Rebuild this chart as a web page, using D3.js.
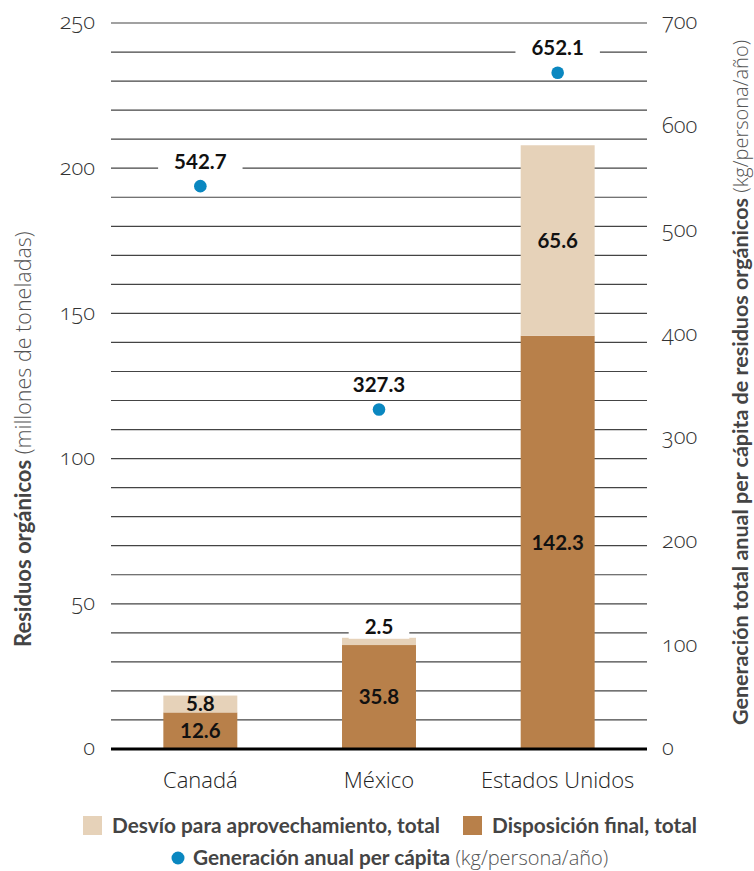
<!DOCTYPE html>
<html>
<head>
<meta charset="utf-8">
<script src="https://cdn.jsdelivr.net/npm/d3@7"></script>
<style>
  body { margin: 0; background: #fff; }
  svg text { font-family: Lato, "Open Sans", sans-serif; }
  .light { font-family: "Open Sans", Lato, sans-serif; font-weight: 300; }
  .tick text { font-variant-numeric: oldstyle-nums; }
</style>
</head>
<body>
<svg id="chart"></svg>
<script>
// datos
var countries = ["Canadá", "México", "Estados Unidos"]
var desvio = [5.8, 2.5, 65.6]          // desvío para aprovechamiento
var disposicion = [12.6, 35.8, 142.3]  // disposición final
var perCapita = [542.7, 327.3, 652.1]  // kg/persona/año
var leftTicks = [0, 50, 100, 150, 200, 250]
var rightTicks = [0, 100, 200, 300, 400, 500, 600, 700]

var colDesvio = "#e6d2b9"
var colDisp = "#b8804a"
var colDot = "#0a87c0"

var screen = {width: 754, height: 871}
var plot = {left: 111, right: 647, top: 23, bottom: 749}

var svg = d3.select("#chart")
  .attr("width", screen.width)
  .attr("height", screen.height)

var x = d3.scaleBand()
  .domain(countries)
  .range([plot.left, plot.right])
  .paddingInner(0.586)
  .paddingOuter(0.293)

var y = d3.scaleLinear().domain([0, 250]).range([plot.bottom, plot.top])
var y2 = d3.scaleLinear().domain([0, 700]).range([plot.bottom, plot.top])

// lineas de cuadricula cada 10
svg.append("g")
  .selectAll("line")
  .data(y.ticks(25))
  .enter()
  .append("line")
  .attr("x1", plot.left)
  .attr("x2", plot.right)
  .attr("y1", function(d){ return y(d) })
  .attr("y2", function(d){ return y(d) })
  .attr("stroke", "#444")
  .attr("stroke-width", 1.2)

// barras apiladas
var rows = countries.map(function(c, i){
  return {pais: c, disposicion: disposicion[i], desvio: desvio[i]}
})
var stack = d3.stack().keys(["disposicion", "desvio"])(rows)
var colors = {disposicion: colDisp, desvio: colDesvio}

svg.append("g")
  .selectAll("g")
  .data(stack)
  .enter()
  .append("g")
  .attr("fill", function(s){ return colors[s.key] })
  .selectAll("rect")
  .data(function(s){ return s })
  .enter()
  .append("rect")
  .attr("x", function(d){ return x(d.data.pais) })
  .attr("width", x.bandwidth())
  .attr("y", function(d){ return y(d[1]) })
  .attr("height", function(d){ return y(d[0]) - y(d[1]) })

// linea base
svg.append("line")
  .attr("x1", plot.left).attr("x2", plot.right)
  .attr("y1", y(0)).attr("y2", y(0))
  .attr("stroke", "#000")
  .attr("stroke-width", 3)

// ejes
var axL = svg.append("g")
  .attr("transform", "translate(" + (plot.left - 16) + ",0)")
  .call(d3.axisLeft(y).tickValues(leftTicks).tickSize(0).tickPadding(0))
var axR = svg.append("g")
  .attr("transform", "translate(" + (plot.right + 15) + ",0)")
  .call(d3.axisRight(y2).tickValues(rightTicks).tickSize(0).tickPadding(0))
;[axL, axR].forEach(function(a){
  a.select(".domain").remove()
  a.selectAll("text")
    .attr("class", "light")
    .attr("font-size", 22)
    .attr("fill", "#333")
    .attr("dy", "0.27em")
})

var axX = svg.append("g")
  .attr("transform", "translate(0," + plot.bottom + ")")
  .call(d3.axisBottom(x).tickSize(0).tickPadding(0))
axX.select(".domain").remove()
axX.selectAll("text")
  .attr("class", "light")
  .attr("font-size", 22)
  .attr("fill", "#222")
  .attr("dy", 39)

// etiquetas de valores en barras
var segLabels = svg.append("g")
stack.forEach(function(s){
  s.forEach(function(d, i){
    if (s.key == "desvio" && i == 1) return
    segLabels.append("text")
      .attr("x", x(d.data.pais) + x.bandwidth() / 2)
      .attr("y", (y(d[0]) + y(d[1])) / 2)
      .attr("dy", "0.36em")
      .attr("text-anchor", "middle")
      .attr("font-size", 20.5)
      .attr("font-weight", 700)
      .attr("fill", "#111")
      .text(d.data[s.key].toFixed(1))
  })
})

// etiqueta con fondo blanco
function boxedLabel(cx, cy, txt){
  var g = svg.append("g")
  var bg = g.append("rect").attr("fill", "#fff")
  var t = g.append("text")
    .attr("x", cx)
    .attr("y", cy)
    .attr("dy", "0.36em")
    .attr("text-anchor", "middle")
    .attr("font-size", 20.5)
    .attr("font-weight", 700)
    .attr("fill", "#111")
    .text(txt)
  var w = t.node().getComputedTextLength() + 32
  bg.attr("x", cx - w / 2).attr("y", cy - 12).attr("width", w).attr("height", 24)
}

// desvío de México, arriba de la barra
boxedLabel(x(countries[1]) + x.bandwidth() / 2,
  y(disposicion[1] + desvio[1]) - 11, desvio[1].toFixed(1))

// puntos per cápita
perCapita.forEach(function(v, i){
  boxedLabel(x(countries[i]) + x.bandwidth() / 2, y2(v) - 25, v.toFixed(1))
})
svg.append("g")
  .selectAll("circle")
  .data(perCapita)
  .enter()
  .append("circle")
  .attr("cx", function(d, i){ return x(countries[i]) + x.bandwidth() / 2 })
  .attr("cy", function(d){ return y2(d) })
  .attr("r", 6.3)
  .attr("fill", colDot)

// titulos de ejes
var tl = svg.append("text")
  .attr("transform", "translate(31,647) rotate(-90)")
  .attr("fill", "#444")
tl.append("tspan").attr("font-weight", 700).attr("font-size", 22).text("Residuos orgánicos")
tl.append("tspan").attr("class", "light").attr("font-size", 21.5).attr("fill", "#555")
  .text(" (millones de toneladas)")

var tr = svg.append("text")
  .attr("transform", "translate(748,725) rotate(-90)")
  .attr("fill", "#444")
tr.append("tspan").attr("font-weight", 700).attr("font-size", 21.5)
  .text("Generación total anual per cápita de residuos orgánicos")
tr.append("tspan").attr("class", "light").attr("font-size", 20).attr("fill", "#555")
  .text(" (kg/persona/año)")

// leyenda
var leg = svg.append("g")
var legItems = [
  {label: "Desvío para aprovechamiento, total", color: colDesvio, x: 83},
  {label: "Disposición final, total", color: colDisp, x: 463}
]
legItems.forEach(function(it){
  leg.append("rect")
    .attr("x", it.x).attr("y", 816)
    .attr("width", 19).attr("height", 19)
    .attr("fill", it.color)
  leg.append("text")
    .attr("x", it.x + 29).attr("y", 833)
    .attr("font-size", 20.8)
    .attr("font-weight", 700)
    .attr("fill", "#444")
    .text(it.label)
})
leg.append("circle")
  .attr("cx", 178).attr("cy", 858).attr("r", 6.5)
  .attr("fill", colDot)
var lt = leg.append("text")
  .attr("x", 193).attr("y", 865)
  .attr("fill", "#444")
lt.append("tspan").attr("font-weight", 700).attr("font-size", 20.8).text("Generación anual per cápita")
lt.append("tspan").attr("class", "light").attr("font-size", 20).attr("fill", "#555")
  .text(" (kg/persona/año)")
</script>
</body>
</html>
